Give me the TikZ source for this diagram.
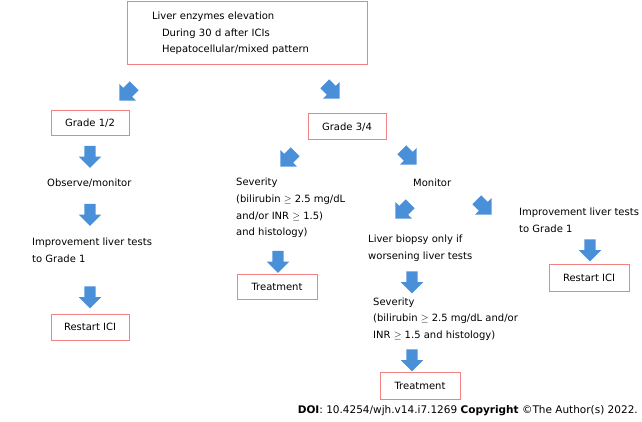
\documentclass[tikz,border=0pt]{standalone}
\usepackage{fontspec}
\setmainfont{DejaVu Sans}
\usetikzlibrary{shapes.arrows}
\definecolor{boxred}{RGB}{240,130,130}
\definecolor{arrowblue}{RGB}{74,144,217}
\tikzset{
  box/.style={draw=boxred, line width=1pt, inner sep=0pt, minimum width=78pt, minimum height=25pt, font=\fontsize{10}{16.7}\selectfont},
  txt/.style={anchor=west, align=left, inner sep=0pt, font=\fontsize{10}{16.7}\selectfont},
  barrow/.style={single arrow, fill=arrowblue, draw=none, inner xsep=0pt, inner ysep=5.5pt, minimum height=22pt, single arrow head extend=5.5pt, single arrow tip angle=90},
  darrow/.style={barrow, inner ysep=6pt, minimum height=21pt, single arrow head extend=5.5pt},
}
\begin{document}
\begin{tikzpicture}[x=1pt,y=-1pt]
\useasboundingbox (0,0) rectangle (642,422);
% boxes
\node[box, minimum width=240pt, minimum height=63pt, text width=190pt, inner xsep=25pt, align=left] (top) at (247,33.5)
  {Liver enzymes elevation\\\hspace*{10pt}During 30 d after ICIs\\\hspace*{10pt}Hepatocellular/mixed pattern};
\node[box] (g12) at (90,123) {Grade 1/2};
\node[box, minimum height=26pt] (g34) at (347,127) {Grade 3/4};
\node[box, minimum height=26pt] (r1) at (90,327) {Restart ICI};
\node[box, minimum width=80pt] (t1) at (277,286.5) {Treatment};
\node[box, minimum width=80pt, minimum height=27pt] (r2) at (589,277.5) {Restart ICI};
\node[box, minimum width=80pt, minimum height=27pt] (t2) at (420,385.5) {Treatment};
% texts
\node[txt] (obs) at (47,183) {Observe/monitor};
\node[txt] (imp1) at (32,250.5) {Improvement liver tests\\to Grade 1};
\node[txt] (sev1) at (236,208) {Severity\\(bilirubin $\geq$ 2.5 mg/dL\\and/or INR $\geq$ 1.5)\\and histology)};
\node[txt] (mon) at (413,183) {Monitor};
\node[txt] (bio) at (368,248) {Liver biopsy only if\\worsening liver tests};
\node[txt] (imp2) at (519,220.5) {Improvement liver tests\\to Grade 1};
\node[txt] (sev2) at (373,319) {Severity\\(bilirubin $\geq$ 2.5 mg/dL and/or\\INR $\geq$ 1.5 and histology)};
\node[txt, anchor=east, font=\fontsize{10.5}{12}\selectfont] (doi) at (638,411) {\textbf{DOI}: 10.4254/wjh.v14.i7.1269 \textbf{Copyright} \textcopyright The Author(s) 2022.};
% block arrows
\node[darrow, rotate=225] (a1) at (129,91) {};
\node[darrow, rotate=-45] (a2) at (330,89) {};
\node[barrow, rotate=-90] (a3) at (90,154) {};
\node[barrow, rotate=-90] (a4) at (90,212) {};
\node[barrow, rotate=-90] (a5) at (90,294.5) {};
\node[darrow, rotate=225] (a6) at (290,157) {};
\node[darrow, rotate=-45] (a7) at (407,155) {};
\node[barrow, rotate=-90] (a8) at (278,259) {};
\node[darrow, rotate=225] (a9) at (405,209) {};
\node[darrow, rotate=-45] (a10) at (482,205) {};
\node[barrow, rotate=-90] (a11) at (590,247.5) {};
\node[barrow, rotate=-90] (a12) at (412,279.5) {};
\node[barrow, rotate=-90] (a13) at (412,357.5) {};
\end{tikzpicture}
\end{document}
